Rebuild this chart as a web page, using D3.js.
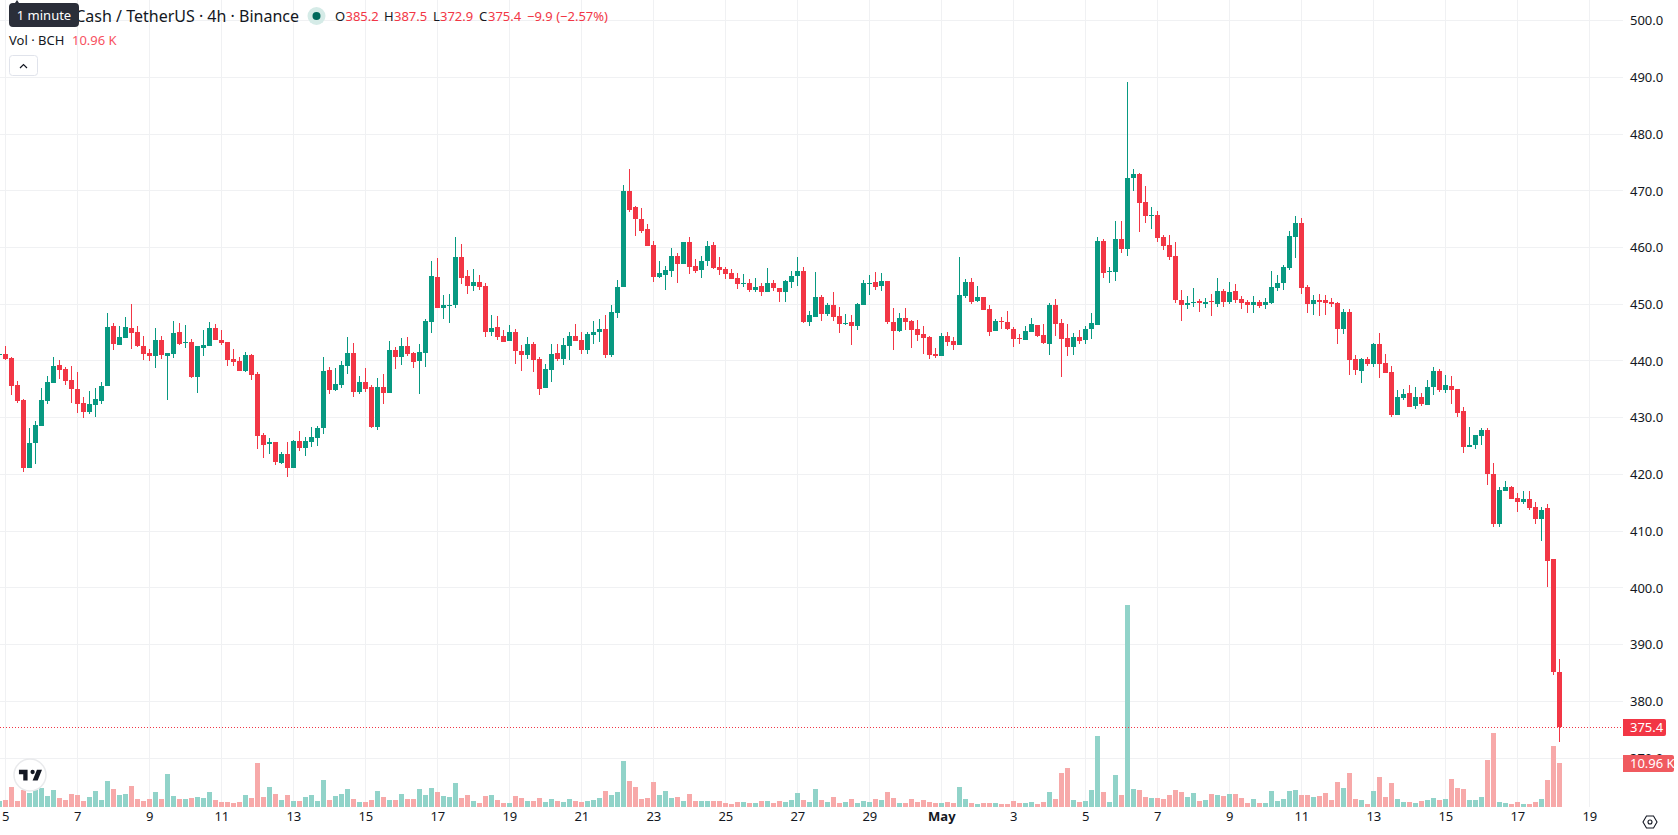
<!DOCTYPE html>
<html>
<head>
<meta charset="utf-8">
<script src="https://cdn.jsdelivr.net/npm/d3@7"></script>
<style>
  html, body { margin: 0; padding: 0; background: #fff; overflow: hidden; }
  svg { display: block; }
  text { font-family: "Noto Sans", "Open Sans", sans-serif; }
</style>
</head>
<body>
<svg id="chart" width="1678" height="835"></svg>
<script>
// BCH/USDT 4h candles, oldest first
const opens = [441.1,
441.2,440.5,435.8,433.1,421.1,425.5,428.5,432.9,436.1,
439.3,438.6,436.6,435.1,432.6,431.0,432.2,432.9,435.6,446.2,
442.8,444.1,445.8,445.1,442.6,441.4,440.9,443.7,440.9,441.2,
445.1,443.3,443.4,437.2,442.3,442.6,445.8,443.7,443.4,440.4,
440.0,438.2,441.1,437.7,426.9,425.4,425.7,422.0,423.6,421.1,
425.9,424.6,425.7,426.4,428.2,438.4,434.9,435.7,439.1,441.4,
434.5,436.3,435.4,428.4,435.4,434.3,441.9,440.7,442.6,441.4,
440.0,441.4,446.8,454.8,449.3,449.8,449.8,458.4,454.9,453.3,
454.0,453.2,445.1,446.0,444.4,443.5,445.1,441.7,441.0,443.0,
440.3,435.2,438.4,441.4,440.3,442.6,444.4,443.7,441.9,444.5,
445.1,445.6,441.0,448.4,453.0,469.9,467.1,465.1,463.2,460.4,
454.8,455.1,455.8,458.5,457.1,460.9,456.7,456.0,457.6,460.4,
456.5,456.2,455.5,454.6,453.6,453.7,452.5,453.2,452.2,453.7,
452.9,452.2,453.9,455.0,455.8,446.9,447.8,451.3,448.3,449.9,
448.0,446.5,446.9,446.2,449.9,453.6,453.9,453.2,454.1,446.9,
445.3,447.6,447.1,445.7,444.8,444.3,441.3,440.9,444.4,443.6,
442.9,451.5,453.9,450.6,451.3,449.2,445.3,447.1,446.9,445.7,
444.1,443.7,445.1,446.4,444.6,443.0,449.9,446.7,444.1,442.5,
444.3,443.7,445.7,446.4,461.1,455.7,455.7,461.5,459.7,472.2,
473.0,468.0,465.6,465.7,461.8,460.4,458.5,450.8,449.9,450.3,
450.6,450.1,450.6,450.1,452.3,450.4,452.3,450.9,450.4,449.9,
450.4,449.9,450.2,452.9,453.7,456.4,461.8,464.4,453.0,450.1,
450.8,450.8,450.4,450.2,445.7,448.7,440.4,438.3,440.4,439.5,
443.0,439.7,438.1,430.5,433.5,434.4,432.1,433.7,432.3,435.5,
438.3,434.9,435.6,435.1,431.1,424.9,425.1,426.8,427.9,420.1,
411.3,417.0,417.7,415.9,415.2,415.6,414.2,412.2,414.0,405.0,
385.2];

const highs = [441.5,
442.6,440.7,436.5,433.3,428.2,429.4,435.2,437.4,440.7,
440.2,438.9,439.1,438.1,433.6,434.7,435.2,436.3,448.5,446.7,
446.2,447.8,450.1,446.2,444.4,442.1,445.8,444.4,441.4,447.1,
446.7,446.4,443.9,442.6,445.5,446.9,446.5,445.5,443.4,442.1,
440.7,441.6,441.2,438.1,427.3,426.4,425.7,424.0,425.7,426.1,
427.6,426.6,428.4,428.5,440.7,438.9,438.8,440.0,444.2,443.1,
437.3,438.7,435.7,437.0,437.7,443.5,442.4,444.0,444.2,441.6,
443.0,447.4,457.6,458.1,451.6,451.9,461.8,460.6,456.0,456.2,
455.1,453.7,448.1,447.9,445.4,446.3,445.6,442.8,444.2,443.3,
440.7,439.4,443.0,443.0,444.0,445.2,446.5,445.2,445.1,447.0,
447.4,448.1,449.8,454.2,471.1,473.9,467.4,466.9,464.1,461.1,
457.6,456.7,459.9,459.0,460.9,461.8,458.0,458.5,461.1,460.9,
458.3,456.5,456.2,455.5,455.3,454.4,454.6,453.7,456.4,454.3,
452.9,454.3,455.8,458.3,456.5,448.8,455.7,451.6,450.2,452.2,
449.5,448.3,448.1,450.2,454.3,455.1,455.7,455.5,454.1,449.4,
448.5,449.4,447.3,447.3,446.2,444.4,442.3,445.0,445.1,444.3,
458.3,454.4,454.6,453.2,451.3,449.9,447.4,447.8,448.8,446.0,
444.8,446.2,447.6,446.4,446.5,450.2,450.9,447.4,446.5,445.0,
445.5,446.2,448.5,461.8,461.5,456.5,464.6,464.6,489.2,473.9,
473.2,470.8,467.1,466.4,462.2,462.2,460.9,452.5,451.5,452.9,
450.9,451.1,451.8,454.6,452.7,453.9,453.6,451.5,450.8,451.5,
450.8,451.1,455.8,455.1,456.9,462.9,465.5,465.3,453.4,451.6,
451.8,451.6,451.1,450.4,449.2,449.2,441.1,440.6,440.7,443.2,
445.0,441.3,439.2,434.8,435.1,435.8,435.5,434.4,436.7,439.0,
438.6,437.6,437.4,435.1,431.8,428.4,427.0,428.1,428.2,422.1,
417.7,418.9,418.0,416.8,417.0,417.0,415.2,414.2,414.7,405.0,
387.5];

const lows = [441.0,
440.1,434.0,432.6,420.4,421.1,421.8,428.5,432.4,436.1,
436.8,435.8,432.6,430.8,429.9,430.6,430.1,432.4,435.6,441.9,
442.8,444.1,442.1,442.5,440.2,440.0,438.8,440.4,433.1,440.5,
442.8,442.3,437.0,434.4,440.9,442.6,443.7,442.8,439.1,439.1,
438.2,438.1,436.6,424.5,422.9,423.6,421.6,421.8,419.5,421.1,
424.1,423.2,424.8,425.0,427.1,434.2,434.7,435.2,437.7,433.6,
434.2,434.5,428.2,427.8,432.4,434.3,438.6,439.3,440.9,438.7,
434.2,438.9,444.9,449.3,447.4,446.7,449.3,453.5,451.9,452.3,
452.6,444.2,444.4,443.7,443.3,443.5,439.4,438.2,440.3,438.0,
434.0,435.2,436.3,440.0,439.3,440.1,443.5,441.2,441.2,443.0,
443.3,440.5,440.7,447.5,453.0,466.2,462.0,462.5,460.2,453.9,
454.6,452.5,454.8,453.7,457.1,455.3,455.5,454.6,456.7,456.2,
455.1,454.4,454.4,452.7,453.0,452.2,452.2,451.5,452.2,452.3,
450.4,450.4,452.9,453.2,446.7,446.2,447.8,447.1,448.0,447.1,
445.0,446.4,442.9,445.5,449.9,451.6,452.5,452.3,446.5,442.0,
445.1,445.5,442.3,443.6,441.3,440.4,440.6,440.9,442.7,442.0,
442.9,451.1,450.1,450.4,449.0,444.4,445.3,445.7,445.5,442.5,
443.0,443.7,445.1,444.3,443.0,441.1,444.4,437.1,440.8,441.1,
443.0,443.0,443.9,446.4,454.6,453.7,454.1,459.0,458.5,469.9,
462.7,464.3,463.2,460.9,459.5,457.8,450.2,447.1,449.2,449.5,
448.7,449.4,448.0,449.5,449.5,450.1,450.2,449.2,448.5,448.5,
449.4,449.2,450.1,452.3,452.5,456.0,458.1,451.8,448.5,448.1,
447.9,448.1,449.5,443.0,444.8,437.6,437.6,436.2,439.2,439.0,
437.0,437.9,430.2,430.5,433.2,431.9,431.6,432.1,432.3,434.0,
434.6,434.4,432.5,430.2,423.8,424.9,424.5,425.1,418.2,410.8,
410.8,417.0,415.7,413.3,414.7,413.8,411.2,408.2,400.1,384.6,
372.9];

const closes = [441.2,
440.4,435.6,432.9,421.1,425.5,428.7,433.1,436.3,439.1,
438.4,436.5,435.1,432.4,431.0,432.4,433.3,435.6,446.0,443.0,
444.2,446.0,444.9,442.6,441.2,440.9,443.7,441.1,441.4,444.9,
443.0,443.4,437.2,442.6,442.8,445.8,443.7,443.2,440.2,439.8,
438.2,441.1,437.5,426.8,425.2,425.7,422.2,423.6,421.1,425.9,
424.6,425.9,426.6,428.2,438.2,434.9,435.9,439.3,441.4,434.5,
436.3,435.0,428.4,435.4,434.3,441.9,440.7,442.6,441.2,439.8,
441.6,447.0,454.9,449.3,449.8,449.9,458.4,454.6,453.3,454.0,
453.0,445.2,445.8,444.2,443.3,445.1,441.7,441.0,443.0,440.1,
435.0,438.6,441.2,440.3,442.8,444.4,443.5,441.9,444.7,445.2,
445.6,441.0,448.6,453.0,469.9,466.7,465.0,463.0,460.2,454.8,
455.5,456.0,458.5,457.1,460.9,456.5,455.8,457.6,460.2,456.4,
456.0,455.3,454.4,453.6,453.7,452.5,453.0,452.2,453.7,452.9,
452.2,454.1,455.0,455.8,446.9,448.1,451.3,448.3,449.9,447.8,
446.5,446.7,446.2,450.1,453.7,453.7,453.0,454.1,446.9,445.3,
447.6,446.9,445.5,444.6,444.1,441.1,440.9,444.4,443.4,442.9,
451.6,453.9,450.4,451.3,449.0,445.1,447.1,447.0,445.7,443.9,
444.0,445.3,446.5,444.4,443.2,449.9,446.5,443.9,442.5,444.3,
443.6,445.7,446.7,461.1,455.5,455.8,461.5,459.7,472.3,473.0,
467.8,465.5,465.7,461.6,460.2,458.3,450.8,449.9,450.2,450.4,
450.2,450.4,450.5,452.3,450.4,452.2,450.8,450.2,449.9,450.4,
449.7,450.4,453.0,453.7,456.5,462.0,464.3,452.9,450.1,450.8,
450.4,450.2,450.1,445.7,448.7,440.2,438.4,440.4,439.5,443.0,
439.5,437.9,430.5,433.7,434.2,431.9,433.7,432.5,435.5,438.3,
434.9,435.8,434.9,430.9,424.9,425.2,427.0,427.9,420.1,411.3,
417.2,417.7,415.7,415.2,415.6,414.0,412.2,413.8,404.8,385.2,
375.4];

// Traded volume per candle, thousands of BCH
const volumes = [1.5,
1.75,5,1.5,4.25,3.5,4.25,4.75,2.75,4.25,
2.25,1.75,3.25,3,1.5,2.5,4,1.75,6.5,4.5,
3,3.25,5.25,2,1.5,2,3.75,2,8.25,2.75,
2,2,2.25,2.5,2.25,3.75,1.75,1.25,1.25,1,
1.25,3,2.25,11,2.5,5,3.25,1.75,3,1.5,
1.5,2.5,3,1.5,6.75,1.75,2.75,3.25,4.5,2,
1.25,1.25,1.75,4,2.5,1.75,1.75,3.25,2,2,
4.5,3,4.75,3.75,2.75,2.5,6,2.25,3,1.5,
1,2.75,3,1.75,1,1,2.75,2.25,1.5,1.5,
2.25,1.25,2,1.5,1.25,2,1.5,1.25,1.5,1.75,
2.25,4,3,3.75,11.5,6.5,5,2,2.25,6.25,
3,4,2.25,2.5,1.5,3.25,1.5,1.5,1.5,1.5,
1.5,1,0.75,1.25,1.25,1,1,1.5,1.5,1,
1.5,1.25,1.75,3.5,1.75,1.25,4.5,1.75,1.25,2.5,
1,1.25,2,1,1.5,1.25,2,1.75,3.75,2.25,
1,1,2,1.25,1.75,1.25,1,1,1.25,1,
5,2,1,0.75,1,1,1,0.75,0.75,1.5,
1,1,1.25,0.75,1.25,3.75,2,8.5,9.75,1.75,
1.25,1.5,4.25,17.75,3.75,1.25,8,3,50.5,4.5,
4.25,2.5,2.25,2.25,2,3,4.25,3.75,2.5,3.5,
1.5,1.75,3.25,3,2.75,3.25,3.25,2.25,1,2,
1,1,4,1.5,2,4,4.25,3,3,2.5,
2.75,3.5,1.75,6.25,4.75,8.5,2,1.75,0.75,4,
7.5,2.5,6,2,1.25,1.25,1,1.5,1.75,2.25,
1.75,2,7,4.75,4.5,1.75,1.75,2.5,11.75,18.5,
1.25,1,0.75,1.25,0.75,0.75,1.25,2,6.75,15.25,
10.96];

const priceTicks = d3.range(370, 501, 10);
const dayLabels = ["5","7","9","11","13","15","17","19","21","23","25","27","29","May","3","5","7","9","11","13","15","17","19"];

const UP = "#089981", DOWN = "#f23645";
const UP_VOL = "#91d3c9", DOWN_VOL = "#f7a9a9";
const GRID = "#f0f1f3";
const INK = "#131722";

const firstCandle = Date.UTC(2025, 3, 4, 20);       // the partly cut-off leading candle
const firstDay = Date.UTC(2025, 3, 5);
const HOUR = 3600e3;

const candles = opens.map((o, i) => ({
  t: new Date(firstCandle + i * 4 * HOUR),
  o, h: highs[i], l: lows[i], c: closes[i], v: volumes[i]
}));
const tickDates = dayLabels.map((_, i) => new Date(firstDay + i * 48 * HOUR));

const svg = d3.select("#chart");

const x = d3.scaleUtc()
  .domain([new Date(firstDay), new Date(firstDay + 48 * HOUR)])
  .range([5.33, 77.33]);
const y = d3.scaleLinear().domain([500, 370]).range([20.7, 758]);
const yVol = d3.scaleLinear().domain([0, 50.5]).range([807, 605]);

const PLOT_RIGHT = 1623;
const px = v => Math.floor(x(v));

// Grid
const grid = svg.append("g").attr("shape-rendering", "crispEdges").attr("stroke", GRID);
grid.selectAll(".v").data(tickDates).join("line")
  .attr("x1", d => px(d) + 0.5).attr("x2", d => px(d) + 0.5)
  .attr("y1", 0).attr("y2", 807);
grid.selectAll(".h").data(priceTicks).join("line")
  .attr("x1", 0).attr("x2", PLOT_RIGHT)
  .attr("y1", d => Math.floor(y(d)) + 0.5).attr("y2", d => Math.floor(y(d)) + 0.5);

// Volume
svg.append("g").attr("shape-rendering", "crispEdges").selectAll("rect").data(candles).join("rect")
  .attr("x", d => px(d.t) - 2)
  .attr("width", 5)
  .attr("y", d => Math.round(yVol(d.v)))
  .attr("height", d => 807 - Math.round(yVol(d.v)))
  .attr("fill", d => d.c >= d.o ? UP_VOL : DOWN_VOL);

// Candles
const candle = svg.append("g").attr("shape-rendering", "crispEdges").selectAll("g").data(candles).join("g")
  .attr("fill", d => d.c >= d.o ? UP : DOWN);
candle.append("rect")
  .attr("x", d => px(d.t))
  .attr("width", 1)
  .attr("y", d => Math.round(y(d.h)))
  .attr("height", d => Math.max(1, Math.round(y(d.l)) - Math.round(y(d.h))));
candle.append("rect")
  .attr("x", d => px(d.t) - 2)
  .attr("width", 5)
  .attr("y", d => Math.round(y(Math.max(d.o, d.c))))
  .attr("height", d => Math.max(1, Math.round(y(Math.min(d.o, d.c))) - Math.round(y(Math.max(d.o, d.c)))));

// Last price line
const last = candles[candles.length - 1];
svg.append("line")
  .attr("x1", 0).attr("x2", PLOT_RIGHT)
  .attr("y1", Math.round(y(last.c)) + 0.5).attr("y2", Math.round(y(last.c)) + 0.5)
  .attr("stroke", DOWN).attr("stroke-dasharray", "1 2");

// Price axis
svg.append("g")
  .attr("transform", `translate(1630,0)`)
  .call(d3.axisRight(y).tickValues(priceTicks).tickFormat(d3.format(".1f")).tickSize(0).tickPadding(0))
  .call(g => g.select(".domain").remove())
  .call(g => g.selectAll("text").attr("font-size", 13).attr("fill", INK)
    .style("font-family", '"Noto Sans", sans-serif'));

// Time axis
svg.append("g")
  .attr("transform", "translate(0,812)")
  .call(d3.axisBottom(x).tickValues(tickDates).tickFormat((d, i) => dayLabels[i]).tickSize(0).tickPadding(0))
  .call(g => g.select(".domain").remove())
  .call(g => g.selectAll("text").attr("font-size", 13).attr("fill", INK)
    .attr("font-weight", (d, i) => dayLabels[i] === "May" ? 700 : 400)
    .style("font-family", '"Noto Sans", sans-serif'));

// Price and volume badges
const badge = (top, h, w, fill, label, dx) => {
  svg.append("path")
    .attr("d", `M${PLOT_RIGHT},${top}h${w - 2}a2,2 0 0 1 2,2v${h - 4}a2,2 0 0 1 -2,2h${-(w - 2)}z`)
    .attr("fill", fill);
  svg.append("text").attr("x", PLOT_RIGHT + dx).attr("y", top + h / 2 + 4.5)
    .attr("font-size", 13).attr("fill", "#fff").text(label);
};
badge(719, 17, 43, DOWN, d3.format(".1f")(last.c), 7);
badge(755, 17, 51, "#f05a5f", "10.96 K", 7);

// Legend rows
const legend = svg.append("g");
legend.append("text").attr("x", 299).attr("y", 22).attr("text-anchor", "end")
  .attr("font-size", 16).attr("fill", INK).text("Bitcoin Cash / TetherUS · 4h · Binance");
legend.append("circle").attr("cx", 316.5).attr("cy", 16).attr("r", 9).attr("fill", "#d5ebe7");
legend.append("circle").attr("cx", 316.5).attr("cy", 16).attr("r", 4).attr("fill", "#00695c");

const ohlcLetters = [["O", 335, 345.5, "385.2"], ["H", 384, 394, "387.5"], ["L", 433, 440, "372.9"], ["C", 479, 488, "375.4"]];
ohlcLetters.forEach(([letter, lx, vx, val]) => {
  legend.append("text").attr("x", lx).attr("y", 21).attr("font-size", 13).attr("fill", INK).text(letter);
  legend.append("text").attr("x", vx).attr("y", 21).attr("font-size", 13).attr("fill", DOWN).text(val);
});
legend.append("text").attr("x", 527).attr("y", 21).attr("font-size", 13).attr("fill", DOWN).text("−9.9 (−2.57%)");

legend.append("text").attr("x", 9).attr("y", 45).attr("font-size", 13).attr("fill", INK).text("Vol · BCH");
legend.append("text").attr("x", 72).attr("y", 45).attr("font-size", 13).attr("fill", "#f7525f").text("10.96 K");

// Collapse button
legend.append("rect").attr("x", 9.5).attr("y", 55.5).attr("width", 28).attr("height", 20).attr("rx", 3)
  .attr("fill", "#fff").attr("stroke", "#e0e3eb");
legend.append("path").attr("d", "M20,68l3.5,-3.5l3.5,3.5").attr("fill", "none").attr("stroke", INK).attr("stroke-width", 1.2);

// Tooltip over the symbol title
legend.append("path").attr("d", "M13,3h2l2,-3l2,3h56a4,4 0 0 1 4,4v16a4,4 0 0 1 -4,4H13a4,4 0 0 1 -4,-4V7a4,4 0 0 1 4,-4z")
  .attr("fill", "#2a2e39");
legend.append("text").attr("x", 44).attr("y", 20).attr("text-anchor", "middle")
  .attr("font-size", 13).attr("fill", "#fff").text("1 minute");

// Watermark
const mark = svg.append("g").attr("transform", "translate(30,775)");
mark.append("circle").attr("r", 16).attr("fill", "#fff").attr("stroke", "#e9eaec").attr("stroke-width", 1.5);
mark.append("path").attr("transform", "translate(-12.5,-9.5) scale(0.72)")
  .attr("d", "M14 6H2v6h6v9h6V6zm14 15h-7l6-15h7l-6 15zm-7-9a3 3 0 1 0 0-6 3 3 0 0 0 0 6z")
  .attr("fill", "#131722");

// Axis settings glyph
const gear = svg.append("g").attr("transform", "translate(1650,822)").attr("fill", "none").attr("stroke", INK).attr("stroke-width", 1.1);
gear.append("path").attr("d", "M-7,0L-3.5,-6H3.5L7,0L3.5,6H-3.5Z");
gear.append("circle").attr("r", 2);
</script>
</body>
</html>
